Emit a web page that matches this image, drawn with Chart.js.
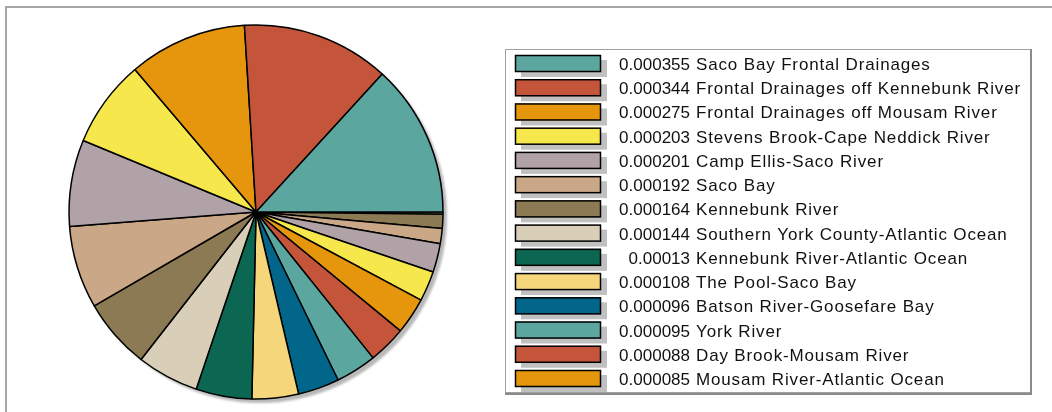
<!DOCTYPE html>
<html>
<head>
<meta charset="utf-8">
<script src="https://cdn.jsdelivr.net/npm/chart.js@4"></script>
<style>
  body { margin: 0; background: #fff; }
  #wrap { width: 1052px; height: 412px; }
</style>
</head>
<body>
<div id="wrap"><canvas id="myChart" width="1052" height="412"></canvas></div>
<script>
// watersheds, largest first (only the first 14 are listed in the legend)
var categories = [
    'Saco Bay Frontal Drainages',
    'Frontal Drainages off Kennebunk River',
    'Frontal Drainages off Mousam River',
    'Stevens Brook-Cape Neddick River',
    'Camp Ellis-Saco River',
    'Saco Bay',
    'Kennebunk River',
    'Southern York County-Atlantic Ocean',
    'Kennebunk River-Atlantic Ocean',
    'The Pool-Saco Bay',
    'Batson River-Goosefare Bay',
    'York River',
    'Day Brook-Mousam River',
    'Mousam River-Atlantic Ocean',
    '', '', '', '', ''
]
var values = [0.000355, 0.000344, 0.000275, 0.000203, 0.000201, 0.000192, 0.000164, 0.000144, 0.00013,
    0.000108, 0.000096, 0.000095, 0.000088, 0.000085, 0.00007, 0.000067, 0.000035, 0.000033, 0.000005]
var palette = ['#5ca6a0', '#c4553a', '#e5960d', '#f5e74c', '#b0a2a6', '#c9a787', '#8c7a55',
    '#d9cfb9', '#0b6652', '#f6d67a', '#02668a']
var legendCount = 14

var colors = values.map(function (v, i) { return palette[i % palette.length] })

// pie runs counter-clockwise from 3 o'clock, so feed it reversed and start at 90deg
var pieLabels = categories.slice().reverse()
var pieValues = values.slice().reverse()
var pieColors = colors.slice().reverse()

var framePlugin = {
    id: 'frame',
    beforeDraw: function (chart) {
        var ctx = chart.ctx
        ctx.save()
        ctx.strokeStyle = '#a6a6a6'
        ctx.lineWidth = 2
        ctx.beginPath()
        ctx.moveTo(6, 412)
        ctx.lineTo(6, 7)
        ctx.lineTo(1052, 7)
        ctx.stroke()
        ctx.restore()
    },
    beforeDatasetsDraw: function (chart) {
        // grey drop shadow under the pie
        var arc = chart.getDatasetMeta(0).data[0]
        var ctx = chart.ctx
        ctx.save()
        ctx.fillStyle = '#b8b8b8'
        ctx.filter = 'blur(1px)'
        ctx.beginPath()
        ctx.arc(arc.x + 4, arc.y + 4, arc.outerRadius, 0, Math.PI * 2)
        ctx.fill()
        ctx.restore()
    },
    afterDraw: function (chart) {
        var ctx = chart.ctx
        ctx.save()
        // legend box
        ctx.strokeStyle = '#a0a0a0'
        ctx.lineWidth = 1
        ctx.strokeRect(505.5, 49.5, 525, 343)
        ctx.strokeStyle = '#8a8a8a'
        ctx.lineWidth = 2
        ctx.beginPath()
        ctx.moveTo(1031, 49)
        ctx.lineTo(1031, 394)
        ctx.lineTo(505, 394)
        ctx.stroke()

        ctx.font = '17px "Liberation Sans", Arial, sans-serif'
        for (var i = 0; i < legendCount; i++) {
            var top = 55 + i * 24.23
            ctx.fillStyle = '#c0c0c0'
            ctx.fillRect(521, top + 5, 86, 17)
            ctx.fillStyle = colors[i]
            ctx.fillRect(515, top, 86, 17)
            ctx.strokeStyle = '#000'
            ctx.lineWidth = 1.5
            ctx.strokeRect(515.5, top + 0.5, 85, 16)

            ctx.fillStyle = '#111'
            ctx.textBaseline = 'alphabetic'
            ctx.letterSpacing = '0px'
            ctx.textAlign = 'right'
            ctx.fillText(String(values[i]), 690, top + 15)
            ctx.letterSpacing = '0.85px'
            ctx.textAlign = 'left'
            ctx.fillText(categories[i], 696, top + 15)
        }
        ctx.restore()
    }
}

let myChart = document.getElementById('myChart').getContext('2d')
let pieChart = new Chart(myChart, {
    type: 'pie',
    data: {
        labels: pieLabels,
        datasets: [{
            data: pieValues,
            backgroundColor: pieColors,
            borderColor: '#000',
            borderWidth: 1.5,
            radius: 187,
            hoverOffset: 0
        }]
    },
    options: {
        responsive: false,
        animation: false,
        rotation: 90,
        layout: { padding: { left: 60, right: 600, top: 18, bottom: 6 } },
        plugins: {
            legend: { display: false },
            tooltip: { enabled: false }
        }
    },
    plugins: [framePlugin]
});
</script>
</body>
</html>
